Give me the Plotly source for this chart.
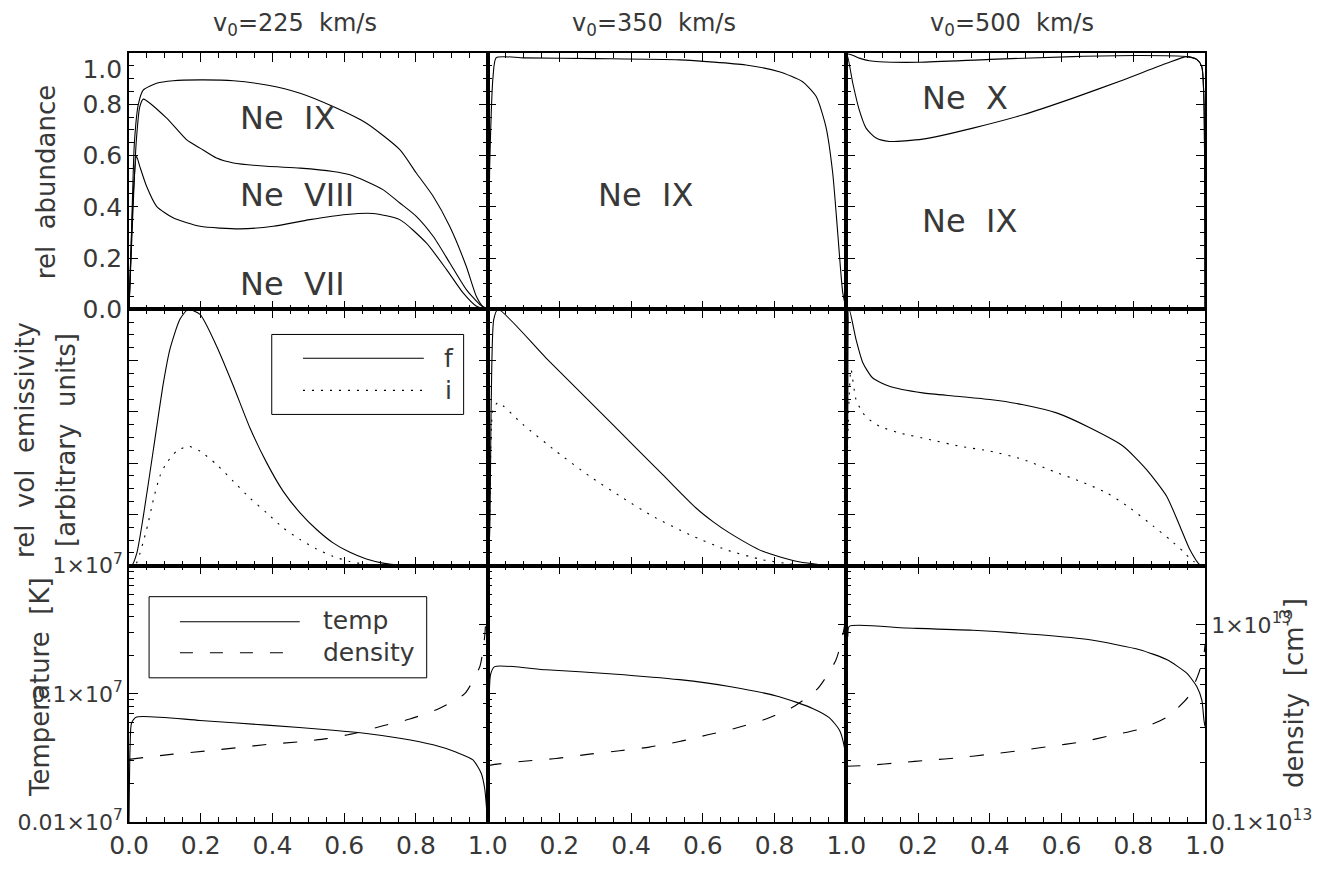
import plotly.graph_objects as go
from plotly.subplots import make_subplots

# ---------------- data ----------------
col_titles = ["v<sub>0</sub>=225\u00a0 km/s", "v<sub>0</sub>=350\u00a0 km/s", "v<sub>0</sub>=500\u00a0 km/s"]

x_tickvals = [0, 0.2, 0.4, 0.6, 0.8, 1.0]
x_ticktext_first = ["0.0", "0.2", "0.4", "0.6", "0.8", "1.0"]
x_ticktext_other = ["", "0.2", "0.4", "0.6", "0.8", "1.0"]
lin_minor_vals = [0.05, 0.1, 0.15, 0.25, 0.3, 0.35, 0.45, 0.5, 0.55, 0.65, 0.7, 0.75, 0.85, 0.9, 0.95]
ab_tickvals = [0, 0.2, 0.4, 0.6, 0.8, 1.0]
# top edge label is nudged inward (as in the original) with an empty line
ab_ticktext = ["0.0", "0.2", "0.4", "0.6", "0.8", "\u00a0<br>1.0"]
t_range_log = [5, 7]          # 10^5 .. 10^7 K
n_range_log = [12, 13.30103]  # 10^12 .. 2x10^13 cm^-3
t_minor_vals = [2e5, 3e5, 4e5, 5e5, 6e5, 7e5, 8e5, 9e5, 2e6, 3e6, 4e6, 5e6, 6e6, 7e6, 8e6, 9e6]
n_minor_vals = [2e12, 3e12, 4e12, 5e12, 6e12, 7e12, 8e12, 9e12]

# top row: cumulative relative abundances
ab1_vii_x = [0, 0.005, 0.011, 0.021, 0.030, 0.049, 0.077, 0.123, 0.198, 0.309, 0.402, 0.504, 0.606, 0.680, 0.755, 0.829, 0.885, 0.931, 0.968, 0.995, 1.0]
ab1_vii_y = [0, 0.20, 0.428, 0.597, 0.558, 0.480, 0.402, 0.357, 0.324, 0.314, 0.324, 0.350, 0.370, 0.374, 0.350, 0.259, 0.156, 0.065, 0.013, 0.001, 0]
ab1_viii_x = [0, 0.010, 0.020, 0.030, 0.040, 0.105, 0.161, 0.198, 0.244, 0.291, 0.384, 0.477, 0.569, 0.616, 0.662, 0.708, 0.755, 0.801, 0.848, 0.894, 0.940, 0.978, 1.0]
ab1_viii_y = [0, 0.35, 0.65, 0.79, 0.820, 0.746, 0.661, 0.629, 0.590, 0.571, 0.558, 0.551, 0.538, 0.525, 0.499, 0.467, 0.415, 0.363, 0.285, 0.182, 0.078, 0.019, 0]
ab1_ix_x = [0, 0.007, 0.015, 0.026, 0.040, 0.077, 0.123, 0.198, 0.291, 0.384, 0.477, 0.569, 0.662, 0.755, 0.801, 0.848, 0.894, 0.940, 0.968, 0.987, 1.0]
ab1_ix_y = [0, 0.30, 0.65, 0.80, 0.856, 0.882, 0.892, 0.895, 0.892, 0.875, 0.843, 0.791, 0.726, 0.623, 0.532, 0.441, 0.324, 0.169, 0.052, 0.010, 0]

ab2_ix_x = [0, 0.0056, 0.015, 0.024, 0.10, 0.30, 0.535, 0.72, 0.813, 0.878, 0.916, 0.943, 0.962, 0.976, 0.990, 1.0]
ab2_ix_y = [0, 0.558, 0.908, 0.982, 0.981, 0.978, 0.973, 0.953, 0.927, 0.888, 0.830, 0.713, 0.532, 0.298, 0.065, 0]

ab3_ix_x = [0, 0.002, 0.018, 0.036, 0.055, 0.083, 0.120, 0.213, 0.353, 0.493, 0.632, 0.772, 0.893, 0.949, 0.977, 0.991, 0.997, 1.0]
ab3_ix_y = [0, 0.995, 0.882, 0.778, 0.707, 0.668, 0.655, 0.664, 0.707, 0.759, 0.824, 0.895, 0.960, 0.986, 0.975, 0.947, 0.817, 0]
ab3_x_x = [0, 0.002, 0.036, 0.064, 0.092, 0.204, 0.400, 0.632, 0.818, 0.949, 0.977, 0.991, 0.997, 1.0]
ab3_x_y = [0, 0.995, 0.980, 0.970, 0.966, 0.964, 0.975, 0.986, 0.990, 0.986, 0.975, 0.947, 0.817, 0]

# middle row: relative volume emissivity (f solid, i dotted)
em1_f_x = [0, 0.0074, 0.022, 0.040, 0.068, 0.096, 0.114, 0.142, 0.165, 0.198, 0.244, 0.291, 0.337, 0.384, 0.430, 0.477, 0.523, 0.569, 0.616, 0.662, 0.708, 0.755, 0.848, 1.0]
em1_f_y = [0, 0, 0.05, 0.193, 0.453, 0.714, 0.844, 0.961, 1.0, 0.980, 0.857, 0.701, 0.538, 0.401, 0.290, 0.206, 0.141, 0.089, 0.052, 0.026, 0.010, 0.002, 0, 0]
em1_i_x = [0, 0.0167, 0.049, 0.068, 0.086, 0.105, 0.133, 0.165, 0.198, 0.244, 0.291, 0.337, 0.384, 0.430, 0.477, 0.523, 0.569, 0.616, 0.662, 0.708, 1.0]
em1_i_y = [0, 0, 0.141, 0.258, 0.349, 0.401, 0.447, 0.466, 0.447, 0.395, 0.329, 0.264, 0.206, 0.147, 0.102, 0.065, 0.036, 0.016, 0.005, 0, 0]

em2_f_x = [0, 0.0056, 0.010, 0.017, 0.029, 0.163, 0.349, 0.488, 0.581, 0.628, 0.674, 0.767, 0.860, 0.953, 1.0]
em2_f_y = [0, 0.128, 0.648, 0.961, 1.0, 0.81, 0.55, 0.355, 0.225, 0.172, 0.128, 0.056, 0.017, 0, 0]
em2_i_x = [0, 0.006, 0.015, 0.029, 0.098, 0.191, 0.284, 0.377, 0.460, 0.563, 0.665, 0.767, 0.860, 0.900, 1.0]
em2_i_y = [0, 0.20, 0.609, 0.636, 0.551, 0.446, 0.349, 0.264, 0.193, 0.121, 0.062, 0.023, 0.004, 0, 0]

em3_f_x = [0, 0.004, 0.008, 0.027, 0.046, 0.073, 0.120, 0.213, 0.307, 0.400, 0.493, 0.586, 0.679, 0.772, 0.837, 0.893, 0.930, 0.958, 0.986, 1.0]
em3_f_y = [0, 0.60, 1.0, 0.883, 0.792, 0.733, 0.700, 0.674, 0.661, 0.648, 0.628, 0.596, 0.538, 0.466, 0.375, 0.271, 0.154, 0.062, 0.003, 0]
em3_i_x = [0, 0.004, 0.013, 0.027, 0.046, 0.064, 0.092, 0.148, 0.232, 0.316, 0.400, 0.493, 0.577, 0.652, 0.726, 0.791, 0.856, 0.902, 0.939, 0.967, 1.0]
em3_i_y = [0, 0.50, 0.766, 0.648, 0.596, 0.570, 0.544, 0.518, 0.492, 0.466, 0.447, 0.414, 0.368, 0.329, 0.284, 0.225, 0.154, 0.102, 0.056, 0.017, 0]

# bottom row: temperature [K] (solid) and density [cm^-3] (dashed)
t1_x = [0, 0.003, 0.007, 0.021, 0.198, 0.384, 0.569, 0.662, 0.755, 0.848, 0.913, 0.959, 0.982, 0.992, 0.998, 1.0]
t1_T = [1.0e5, 3.9e5, 5.9e5, 6.6e5, 6.2e5, 5.7e5, 5.2e5, 4.9e5, 4.5e5, 4.0e5, 3.5e5, 3.05e5, 2.4e5, 1.8e5, 1.17e5, 1.0e5]
n1_x = [0, 0.123, 0.221, 0.309, 0.388, 0.472, 0.551, 0.630, 0.708, 0.783, 0.862, 0.936, 0.978, 0.986, 0.992, 0.997, 1.0]
n1_n = [2.08e12, 2.21e12, 2.30e12, 2.39e12, 2.48e12, 2.55e12, 2.65e12, 2.82e12, 3.08e12, 3.33e12, 3.75e12, 4.48e12, 6.14e12, 7.24e12, 8.9e12, 1.23e13, 1.58e13]

t2_x = [0, 0.003, 0.008, 0.0195, 0.163, 0.349, 0.535, 0.674, 0.813, 0.906, 0.953, 0.981, 0.994, 1.0]
t2_T = [1.0e5, 6.3e5, 1.41e6, 1.63e6, 1.54e6, 1.43e6, 1.29e6, 1.14e6, 9.5e5, 7.7e5, 6.5e5, 5.2e5, 3.9e5, 2.7e5]
n2_x = [0, 0.0195, 0.108, 0.191, 0.284, 0.368, 0.451, 0.535, 0.614, 0.693, 0.776, 0.851, 0.920, 0.971, 0.994, 1.0]
n2_n = [1.93e12, 1.96e12, 2.04e12, 2.10e12, 2.21e12, 2.30e12, 2.40e12, 2.56e12, 2.77e12, 3.00e12, 3.33e12, 3.83e12, 4.75e12, 6.64e12, 9.66e12, 1.38e13]

t3_x = [0, 0.004, 0.008, 0.167, 0.353, 0.539, 0.679, 0.818, 0.893, 0.949, 0.977, 0.991, 0.997, 1.0]
t3_T = [2.51e6, 2.82e6, 3.36e6, 3.26e6, 3.13e6, 2.89e6, 2.64e6, 2.21e6, 1.85e6, 1.45e6, 1.14e6, 8.97e5, 6.27e5, 5.56e5]
n3_x = [0, 0.064, 0.148, 0.232, 0.316, 0.400, 0.483, 0.567, 0.651, 0.735, 0.818, 0.893, 0.953, 0.984, 0.998, 1.0]
n3_n = [1.92e12, 1.94e12, 2.00e12, 2.06e12, 2.12e12, 2.21e12, 2.30e12, 2.42e12, 2.54e12, 2.74e12, 2.96e12, 3.40e12, 4.31e12, 5.79e12, 7.33e12, 7.94e12]

# ---------------- figure ----------------
FONT = "DejaVu Sans"
BLACK = "black"
TXT = "#383838"

fig = make_subplots(
    rows=3, cols=3, horizontal_spacing=0, vertical_spacing=0,
    specs=[[{} for _ in range(3)], [{} for _ in range(3)], [{"secondary_y": True} for _ in range(3)]],
)


def add_line(x, y, row, col, dash="solid", secondary=None):
    tr = go.Scatter(x=x, y=y, mode="lines", hoverinfo="skip",
                    line=dict(color=BLACK, width=1.1, dash=dash, shape="spline", smoothing=0.6))
    if secondary is None:
        fig.add_trace(tr, row=row, col=col)
    else:
        fig.add_trace(tr, row=row, col=col, secondary_y=secondary)


DASH = "14px,17px"
DOT = "2px,7px"

add_line(ab1_vii_x, ab1_vii_y, 1, 1)
add_line(ab1_viii_x, ab1_viii_y, 1, 1)
add_line(ab1_ix_x, ab1_ix_y, 1, 1)
add_line(ab2_ix_x, ab2_ix_y, 1, 2)
add_line(ab3_ix_x, ab3_ix_y, 1, 3)
add_line(ab3_x_x, ab3_x_y, 1, 3)

add_line(em1_f_x, em1_f_y, 2, 1)
add_line(em1_i_x, em1_i_y, 2, 1, DOT)
add_line(em2_f_x, em2_f_y, 2, 2)
add_line(em2_i_x, em2_i_y, 2, 2, DOT)
add_line(em3_f_x, em3_f_y, 2, 3)
add_line(em3_i_x, em3_i_y, 2, 3, DOT)

add_line(t1_x, t1_T, 3, 1, secondary=False)
add_line(n1_x, n1_n, 3, 1, DASH, secondary=True)
add_line(t2_x, t2_T, 3, 2, secondary=False)
add_line(n2_x, n2_n, 3, 2, DASH, secondary=True)
add_line(t3_x, t3_T, 3, 3, secondary=False)
add_line(n3_x, n3_n, 3, 3, DASH, secondary=True)

base = dict(showline=True, linecolor=BLACK, linewidth=1.6, ticklen=9, ticks="inside",
            tickwidth=1.4, tickcolor=BLACK, showgrid=False, zeroline=False, automargin=False)
lin_font = dict(family=FONT, size=25, color=TXT)
log_font = dict(family=FONT, size=22, color=TXT)
minor_lin = dict(tickvals=lin_minor_vals, ticks="inside", ticklen=5, tickcolor=BLACK)

col_domains = [[0, 1 / 3], [1 / 3, 2 / 3], [2 / 3, 1]]
row_domains = [[2 / 3, 1], [1 / 3, 2 / 3], [0, 1 / 3]]

for r in (1, 2, 3):
    for c in (1, 2, 3):
        xa = dict(range=[0, 1], mirror="ticks", domain=col_domains[c - 1], showticklabels=(r == 3),
                  tickvals=x_tickvals, ticktext=(x_ticktext_first if c == 1 else x_ticktext_other),
                  minor=minor_lin, tickfont=lin_font, **base)
        fig.update_xaxes(row=r, col=c, **xa)
        if r < 3:
            ya = dict(range=[0, 1], mirror="ticks", domain=row_domains[r - 1], tickvals=ab_tickvals,
                      ticktext=ab_ticktext, showticklabels=(r == 1 and c == 1), minor=minor_lin,
                      tickfont=lin_font, **base)
            fig.update_yaxes(row=r, col=c, **ya)
        else:
            fig.update_yaxes(row=r, col=c, secondary_y=False, type="log", range=t_range_log,
                             domain=row_domains[2], mirror=False, tickmode="linear", tick0=0, dtick=1,
                             exponentformat="power", showexponent="all", tickfont=log_font,
                             minor=dict(tickvals=t_minor_vals, ticks="inside", ticklen=5, tickcolor=BLACK),
                             showticklabels=(c == 1), **base)
            fig.update_yaxes(row=r, col=c, secondary_y=True, type="log", range=n_range_log,
                             side="right", tickmode="linear", tick0=0, dtick=1,
                             exponentformat="power", showexponent="all", tickfont=log_font,
                             minor=dict(tickvals=n_minor_vals, ticks="inside", ticklen=5, tickcolor=BLACK),
                             showticklabels=(c == 3), **base)

# ion labels
ion_font = dict(family=FONT, size=32, color=TXT)
for (r, c, x, y, txt) in [(1, 1, 0.304, 0.747, "Ne\u00a0 IX"), (1, 1, 0.304, 0.447, "Ne\u00a0 VIII"),
                          (1, 1, 0.304, 0.10, "Ne\u00a0 VII"), (1, 2, 0.303, 0.447, "Ne\u00a0 IX"),
                          (1, 3, 0.204, 0.825, "Ne\u00a0 X"), (1, 3, 0.204, 0.346, "Ne\u00a0 IX")]:
    fig.add_annotation(row=r, col=c, x=x, y=y, text=txt, showarrow=False, xanchor="left",
                       yanchor="middle", font=ion_font)

leg_font = dict(family=FONT, size=25, color=TXT)

# legend in emissivity panel (axes x4 / y4)
fig.add_shape(type="rect", xref="x4 domain", yref="y4 domain",
              x0=0.398, x1=0.933, y0=0.59, y1=0.902, line=dict(color=BLACK, width=1))
fig.add_shape(type="line", xref="x4 domain", yref="y4 domain",
              x0=0.485, x1=0.822, y0=0.809, y1=0.809, line=dict(color=BLACK, width=1.1))
fig.add_shape(type="line", xref="x4 domain", yref="y4 domain",
              x0=0.485, x1=0.822, y0=0.684, y1=0.684, line=dict(color=BLACK, width=1.1, dash=DOT))
fig.add_annotation(xref="x4 domain", yref="y4 domain", x=0.891, y=0.809, text="f",
                   showarrow=False, xanchor="center", yanchor="middle", font=leg_font)
fig.add_annotation(xref="x4 domain", yref="y4 domain", x=0.891, y=0.684, text="i",
                   showarrow=False, xanchor="center", yanchor="middle", font=leg_font)

# legend in temperature panel (axes x7 / y7)
fig.add_shape(type="rect", xref="x7 domain", yref="y7 domain",
              x0=0.056, x1=0.83, y0=0.5625, y1=0.879, line=dict(color=BLACK, width=1))
fig.add_shape(type="line", xref="x7 domain", yref="y7 domain",
              x0=0.142, x1=0.476, y0=0.781, y1=0.781, line=dict(color=BLACK, width=1.1))
fig.add_shape(type="line", xref="x7 domain", yref="y7 domain",
              x0=0.142, x1=0.435, y0=0.66, y1=0.66, line=dict(color=BLACK, width=1.1, dash="13px,17px"))
fig.add_annotation(xref="x7 domain", yref="y7 domain", x=0.535, y=0.785, text="temp",
                   showarrow=False, xanchor="left", yanchor="middle", font=leg_font)
fig.add_annotation(xref="x7 domain", yref="y7 domain", x=0.535, y=0.66, text="density",
                   showarrow=False, xanchor="left", yanchor="middle", font=leg_font)

# column titles
title_font = dict(family=FONT, size=24, color=TXT)
for xp, txt in zip([0.1543, 0.4879, 0.8206], col_titles):
    fig.add_annotation(xref="paper", yref="paper", x=xp, y=1.0377, text=txt, showarrow=False,
                       xanchor="center", yanchor="middle", font=title_font)

# axis titles
ax_font = dict(family=FONT, size=26, color=TXT)
for xp, yp, txt in [(-0.0771, 0.832, "rel\u00a0 abundance"),
                    (-0.0967, 0.4967, "rel\u00a0 vol\u00a0 emissivity"),
                    (-0.0586, 0.4967, "[arbitrary\u00a0 units]"),
                    (-0.0827, 0.1756, "Temperature\u00a0 [K]"),
                    (1.0809, 0.1677, "density\u00a0 [cm<sup>-3</sup>]")]:
    fig.add_annotation(xref="paper", yref="paper", x=xp, y=yp, text=txt, showarrow=False,
                       textangle=-90, xanchor="center", yanchor="middle", font=ax_font)

fig.update_layout(template="none", width=1319, height=869,
                  margin=dict(l=129, r=114, t=53, b=47, autoexpand=False),
                  paper_bgcolor="white", plot_bgcolor="white", showlegend=False,
                  font=dict(family=FONT, size=25, color=TXT))

fig.write_html("out.html")
